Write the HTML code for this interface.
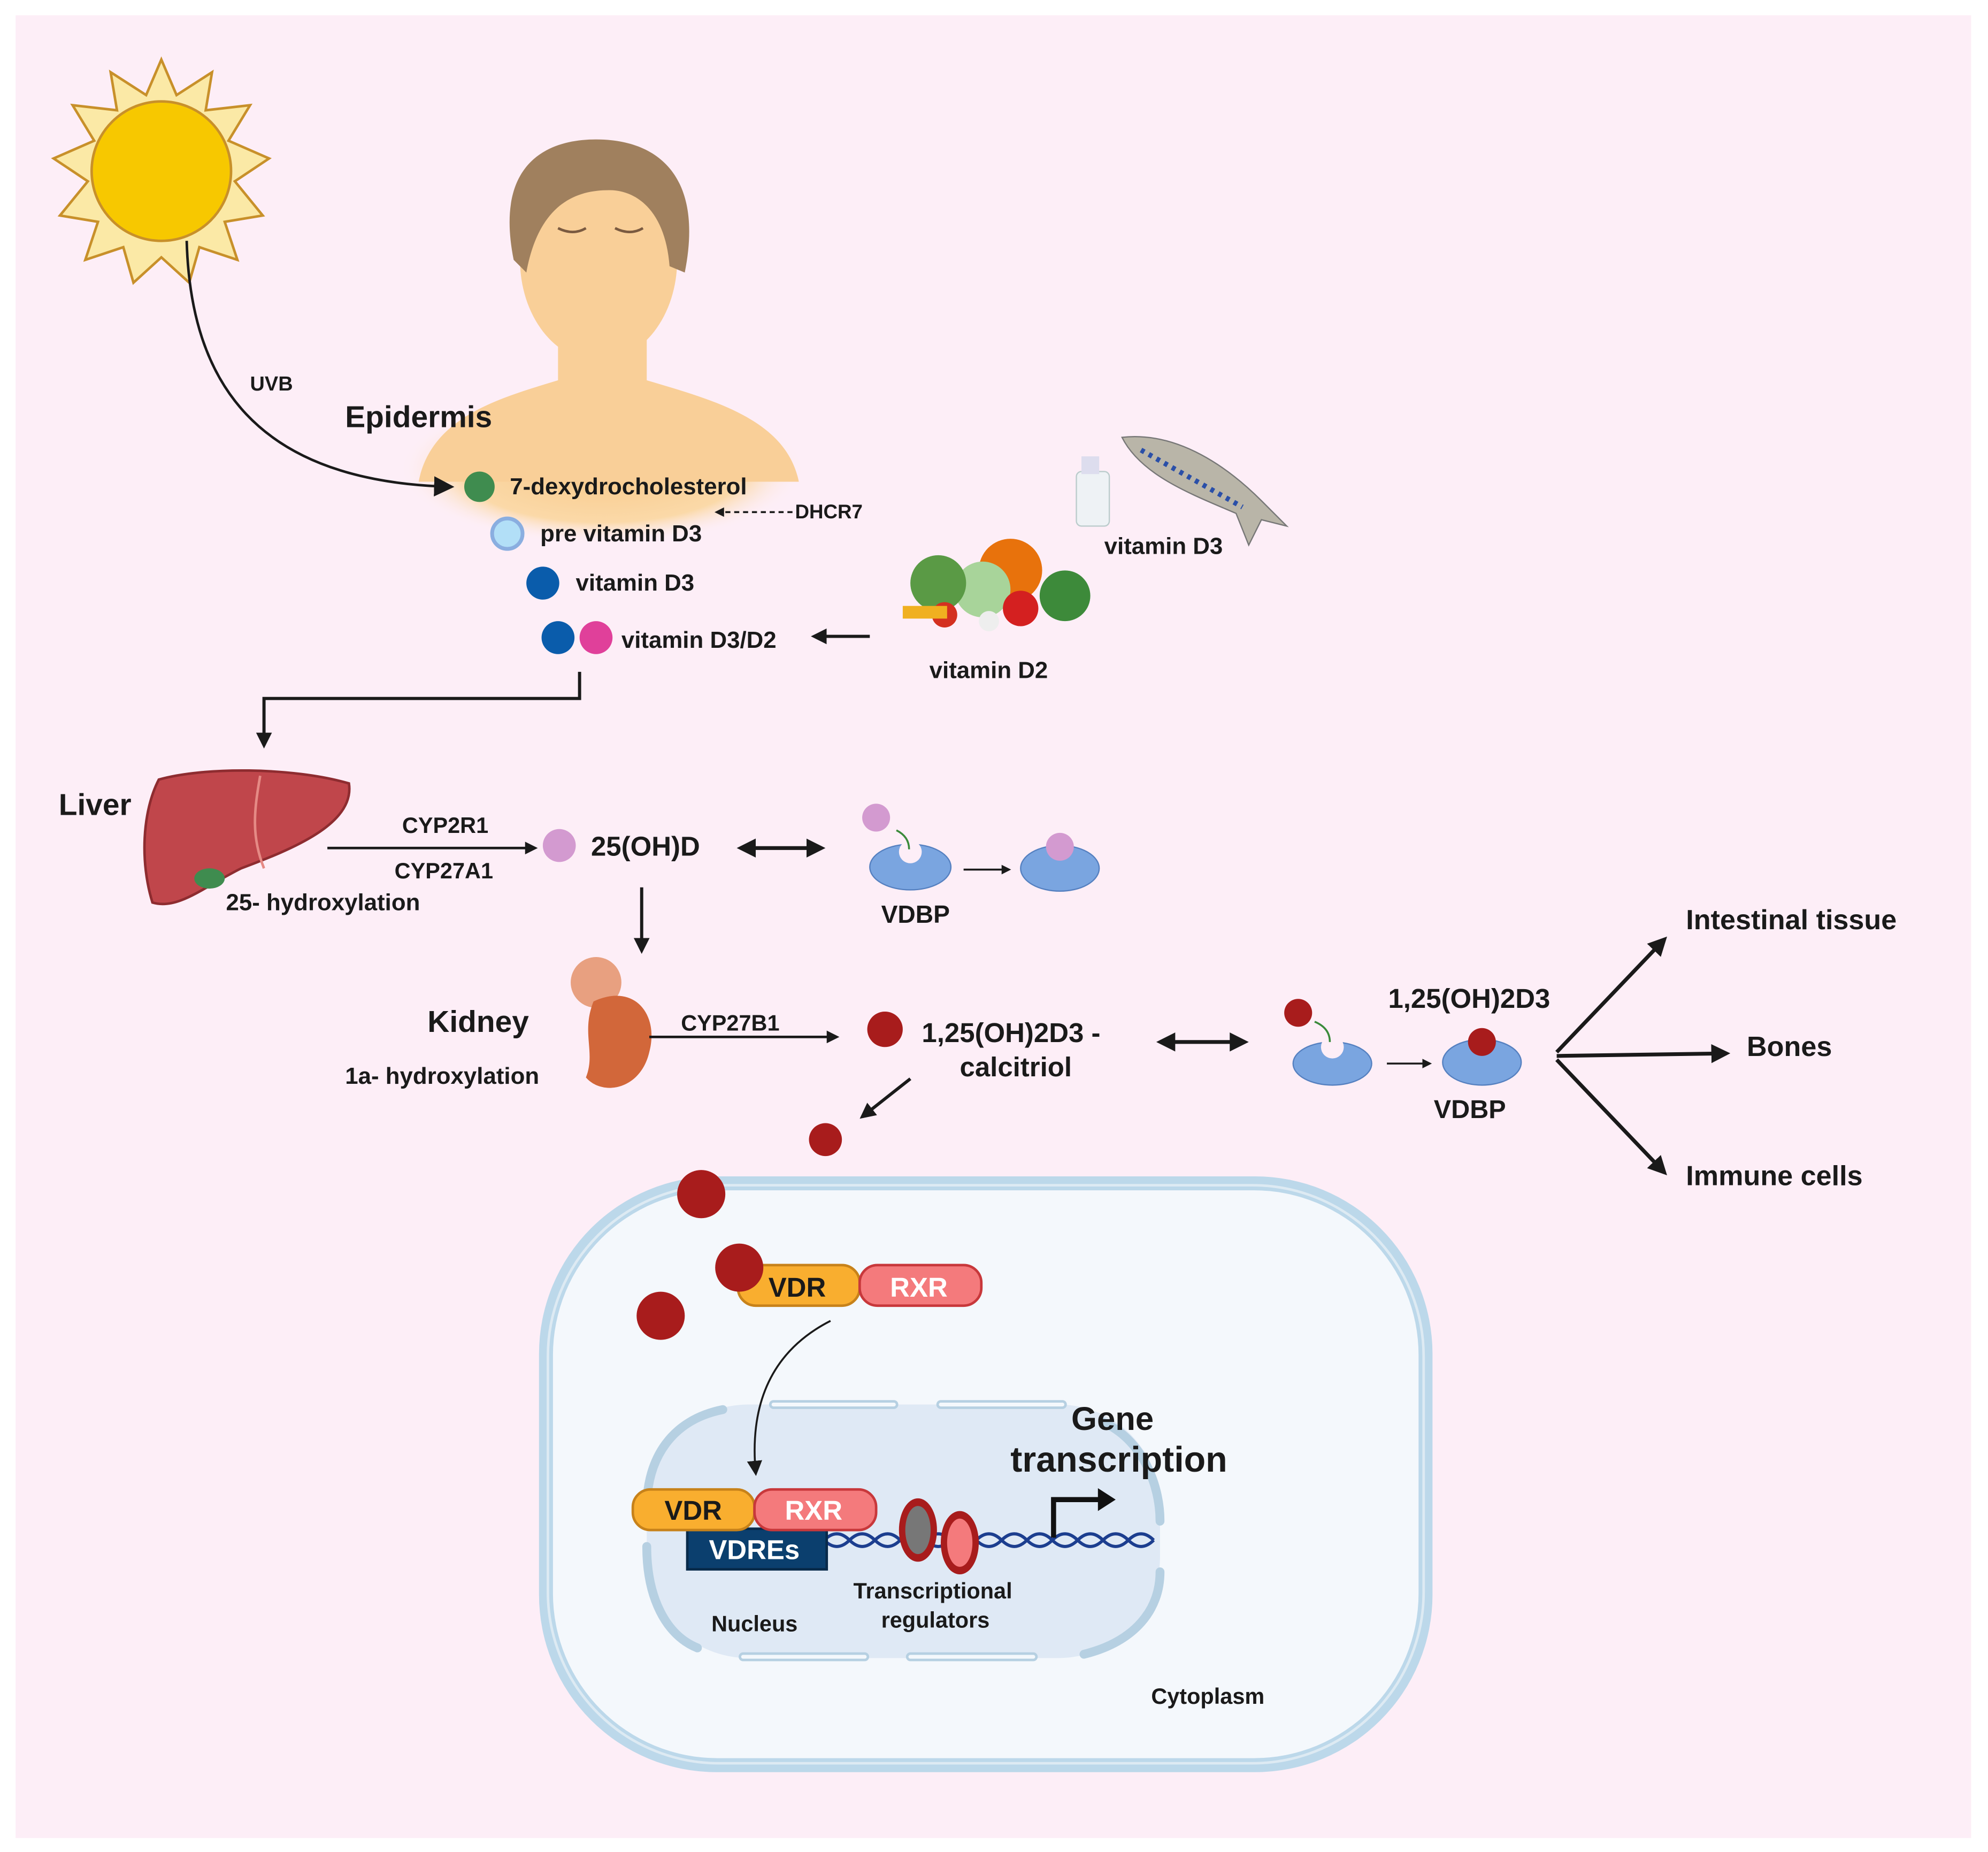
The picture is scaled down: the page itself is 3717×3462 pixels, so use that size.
<!DOCTYPE html>
<html><head><meta charset="utf-8"><style>
html,body{margin:0;padding:0;background:#fff}
svg{display:block}
text{font-family:"Liberation Sans",sans-serif;font-weight:bold;fill:#1a1a1a}
</style></head><body>
<svg width="3717" height="3462" viewBox="0 0 1568 1461" xmlns="http://www.w3.org/2000/svg">
<defs>
<marker id="ah" viewBox="0 0 10 10" refX="8" refY="5" markerWidth="5" markerHeight="5" orient="auto-start-reverse"><path d="M0,0 L10,5 L0,10 z" fill="#1a1a1a"/></marker>
<marker id="ahs" viewBox="0 0 10 10" refX="8" refY="5" markerWidth="8" markerHeight="8" orient="auto-start-reverse"><path d="M0,0 L10,5 L0,10 z" fill="#1a1a1a"/></marker>
<radialGradient id="skin" cx="0.5" cy="0.5" r="0.5"><stop offset="0" stop-color="#f8c98a"/><stop offset="0.7" stop-color="#fbd9a8"/><stop offset="1" stop-color="#fdf0f8" stop-opacity="0"/></radialGradient>
</defs>
<rect x="0" y="0" width="1568" height="1461" fill="#fff"/>
<rect x="12" y="12" width="1543" height="1438" fill="#fdeef7"/>

<!-- Sun -->
<g transform="translate(127,135)">
<polygon fill="#fbe9a6" stroke="#c8902a" stroke-width="2" points="0,-88 12,-60 40,-78 35,-48 70,-52 53,-24 85,-10 58,8 80,35 50,40 60,70 30,60 22,88 0,68 -22,88 -30,60 -60,70 -50,40 -80,35 -58,8 -85,-10 -53,-24 -70,-52 -35,-48 -40,-78 -12,-60"/>
<circle r="55" fill="#f7c800" stroke="#c8902a" stroke-width="2"/>
</g>
<text x="197" y="308" font-size="16">UVB</text>

<!-- Person -->
<ellipse cx="475" cy="370" rx="160" ry="60" fill="url(#skin)"/>
<path d="M330,380 C340,330 390,315 440,300 L440,250 L510,250 L510,300 C560,315 620,330 630,380 Z" fill="#f9cf98"/>
<ellipse cx="472" cy="205" rx="62" ry="80" fill="#f9cf98"/>
<path d="M405,205 C390,130 430,110 470,110 C520,110 555,140 540,215 L528,210 C525,170 505,150 480,150 C455,150 425,160 415,215 Z" fill="#a0805e"/>
<path d="M440,180 q12,6 22,0 M485,180 q12,6 22,0" stroke="#7a5a40" stroke-width="2" fill="none"/>
<path d="M147,190 C150,300 200,380 355,384" fill="none" stroke="#1a1a1a" stroke-width="2" marker-end="url(#ahs)"/>
<text x="272" y="337" font-size="24">Epidermis</text>

<circle cx="378" cy="384" r="12" fill="#3f8c4f"/>
<text x="402" y="390" font-size="18.5">7-dexydrocholesterol</text>
<circle cx="400" cy="421" r="12" fill="#b2dff7" stroke="#8aaee0" stroke-width="3"/>
<text x="426" y="427" font-size="18.5">pre vitamin D3</text>
<line x1="625" y1="404" x2="565" y2="404" stroke="#1a1a1a" stroke-width="1.5" stroke-dasharray="4,3" marker-end="url(#ah)"/>
<text x="627" y="409" font-size="15.5">DHCR7</text>
<circle cx="428" cy="460" r="13" fill="#0a5cab"/>
<text x="454" y="466" font-size="18.5">vitamin D3</text>
<circle cx="440" cy="503" r="13" fill="#0a5cab"/>
<circle cx="470" cy="503" r="13" fill="#e0409a"/>
<text x="490" y="511" font-size="18.5">vitamin D3/D2</text>
<line x1="686" y1="502" x2="642" y2="502" stroke="#1a1a1a" stroke-width="2.5" marker-end="url(#ah)"/>

<!-- fish & bottle -->
<rect x="849" y="372" width="26" height="43" rx="4" fill="#eef2f5" stroke="#bcc" />
<rect x="853" y="360" width="14" height="14" fill="#dde"/>
<path d="M885,345 C930,340 970,370 995,395 L1015,415 L995,410 L985,430 L975,405 C940,390 900,375 885,345 Z" fill="#b9b5a8" stroke="#777" stroke-width="1"/>
<path d="M900,355 L980,400" stroke="#2a4fa8" stroke-width="4" stroke-dasharray="3,4"/>
<text x="871" y="437" font-size="18.5">vitamin D3</text>
<!-- veggies -->
<circle cx="797" cy="450" r="25" fill="#e8720c"/>
<circle cx="775" cy="465" r="22" fill="#a8d49a"/>
<circle cx="740" cy="460" r="22" fill="#5a9a45"/>
<circle cx="840" cy="470" r="20" fill="#3d8a3a"/>
<circle cx="805" cy="480" r="14" fill="#d42020"/>
<circle cx="745" cy="485" r="10" fill="#d43020"/>
<rect x="712" y="478" width="35" height="10" fill="#f0b020"/>
<circle cx="780" cy="490" r="8" fill="#eee"/>
<text x="733" y="535" font-size="18.5">vitamin D2</text>

<path d="M457,530 L457,551 L208,551 L208,588" fill="none" stroke="#1a1a1a" stroke-width="2.5" marker-end="url(#ah)"/>

<!-- Liver -->
<path d="M125,615 C160,605 230,605 275,618 C280,650 230,670 190,685 C160,700 140,718 120,712 C110,680 112,640 125,615 Z" fill="#c0464b" stroke="#8e2c30" stroke-width="2"/>
<path d="M205,612 C200,640 198,660 208,685" stroke="#e58a85" stroke-width="2" fill="none"/>
<ellipse cx="165" cy="693" rx="12" ry="8" fill="#3f8c4f"/>
<text x="46" y="643" font-size="24">Liver</text>
<text x="178" y="718" font-size="18.5">25- hydroxylation</text>
<line x1="258" y1="669" x2="422" y2="669" stroke="#1a1a1a" stroke-width="2" marker-end="url(#ah)"/>
<text x="317" y="657" font-size="17.5">CYP2R1</text>
<text x="311" y="693" font-size="17.5">CYP27A1</text>
<circle cx="441" cy="667" r="13" fill="#d39ad0"/>
<text x="466" y="675" font-size="21.5">25(OH)D</text>
<line x1="584" y1="669" x2="648" y2="669" stroke="#1a1a1a" stroke-width="3" marker-start="url(#ah)" marker-end="url(#ah)"/>
<circle cx="691" cy="645" r="11" fill="#d39ad0"/>
<ellipse cx="718" cy="684" rx="32" ry="18" fill="#7aa5e0" stroke="#5580c0"/>
<circle cx="718" cy="672" r="9" fill="#fdeef7"/>
<path d="M707,655 q10,5 10,15" stroke="#3a8a3a" stroke-width="1.5" fill="none"/>
<text x="695" y="728" font-size="19.5">VDBP</text>
<line x1="760" y1="686" x2="796" y2="686" stroke="#1a1a1a" stroke-width="1.5" marker-end="url(#ah)"/>
<ellipse cx="836" cy="685" rx="31" ry="18" fill="#7aa5e0" stroke="#5580c0"/>
<circle cx="836" cy="668" r="11" fill="#d39ad0"/>
<line x1="506" y1="700" x2="506" y2="750" stroke="#1a1a1a" stroke-width="2.5" marker-end="url(#ah)"/>

<!-- Kidney -->
<circle cx="470" cy="775" r="20" fill="#e8a080"/>
<path d="M468,790 C500,775 520,800 512,830 C505,860 475,865 462,850 C470,830 458,815 468,790 Z" fill="#d2673a"/>
<text x="337" y="814" font-size="24">Kidney</text>
<text x="272" y="855" font-size="18.5">1a- hydroxylation</text>
<line x1="512" y1="818" x2="660" y2="818" stroke="#1a1a1a" stroke-width="2" marker-end="url(#ah)"/>
<text x="537" y="813" font-size="17.5">CYP27B1</text>
<circle cx="698" cy="812" r="14" fill="#a81c1c"/>
<text x="727" y="822" font-size="21.5">1,25(OH)2D3 -</text>
<text x="757" y="849" font-size="21.5">calcitriol</text>
<line x1="915" y1="822" x2="982" y2="822" stroke="#1a1a1a" stroke-width="3" marker-start="url(#ah)" marker-end="url(#ah)"/>
<circle cx="1024" cy="799" r="11" fill="#a81c1c"/>
<ellipse cx="1051" cy="839" rx="31" ry="17" fill="#7aa5e0" stroke="#5580c0"/>
<circle cx="1051" cy="826" r="9" fill="#fdeef7"/>
<path d="M1037,806 q12,5 12,16" stroke="#3a8a3a" stroke-width="1.5" fill="none"/>
<line x1="1094" y1="839" x2="1128" y2="839" stroke="#1a1a1a" stroke-width="1.5" marker-end="url(#ah)"/>
<ellipse cx="1169" cy="838" rx="31" ry="18" fill="#7aa5e0" stroke="#5580c0"/>
<circle cx="1169" cy="822" r="11" fill="#a81c1c"/>
<text x="1095" y="795" font-size="21.5">1,25(OH)2D3</text>
<text x="1131" y="882" font-size="20.5">VDBP</text>
<path d="M1228,830 L1313,741" stroke="#1a1a1a" stroke-width="3" marker-end="url(#ah)"/>
<path d="M1228,833 L1362,831" stroke="#1a1a1a" stroke-width="3" marker-end="url(#ah)"/>
<path d="M1228,836 L1313,925" stroke="#1a1a1a" stroke-width="3" marker-end="url(#ah)"/>
<text x="1330" y="733" font-size="22">Intestinal tissue</text>
<text x="1378" y="833" font-size="22">Bones</text>
<text x="1330" y="935" font-size="22">Immune cells</text>

<line x1="718" y1="851" x2="680" y2="881" stroke="#1a1a1a" stroke-width="2.5" marker-end="url(#ah)"/>
<circle cx="651" cy="899" r="13" fill="#a81c1c"/>

<!-- Cell -->
<rect x="425" y="928" width="705" height="470" rx="140" fill="#bcd8ea"/>
<rect x="436" y="939" width="683" height="448" rx="130" fill="#f4f8fc"/>
<rect x="432" y="935" width="691" height="456" rx="135" fill="none" stroke="#ddeaf3" stroke-width="2"/>
<circle cx="553" cy="942" r="19" fill="#a81c1c"/>
<circle cx="521" cy="1038" r="19" fill="#a81c1c"/>
<rect x="582" y="998" width="96" height="32" rx="14" fill="#f9ae2f" stroke="#c7821a" stroke-width="2"/>
<rect x="678" y="998" width="96" height="32" rx="14" fill="#f47a7c" stroke="#c8383b" stroke-width="2"/>
<circle cx="583" cy="1000" r="19" fill="#a81c1c"/>
<text x="606" y="1023" font-size="21.5">VDR</text>
<text x="702" y="1023" font-size="21.5" style="fill:#fff">RXR</text>

<!-- Nucleus -->
<rect x="510" y="1108" width="405" height="200" rx="80" fill="#dfe9f5"/>
<g fill="none" stroke="#b6d0e2" stroke-width="7" stroke-linecap="round">
<path d="M570,1112 C530,1120 510,1150 510,1190"/>
<path d="M510,1220 C510,1260 525,1290 550,1300"/>
<line x1="610" y1="1108" x2="705" y2="1108"/>
<line x1="742" y1="1108" x2="838" y2="1108"/>
<line x1="586" y1="1307" x2="682" y2="1307"/>
<line x1="718" y1="1307" x2="815" y2="1307"/>
<path d="M855,1305 C895,1295 915,1270 915,1240"/>
<path d="M915,1200 C915,1170 900,1135 870,1122"/>
</g>
<g fill="none" stroke="#f4f8fc" stroke-width="3" stroke-linecap="round">
<line x1="610" y1="1108" x2="705" y2="1108"/>
<line x1="742" y1="1108" x2="838" y2="1108"/>
<line x1="586" y1="1307" x2="682" y2="1307"/>
<line x1="718" y1="1307" x2="815" y2="1307"/>
</g>
<path d="M655,1042 C600,1070 592,1120 596,1162" fill="none" stroke="#1a1a1a" stroke-width="1.5" marker-end="url(#ahs)"/>
<path d="M650,1215 q10,-10 20,0 t20,0 t20,0 t20,0 t20,0 t20,0 t20,0 t20,0 t20,0 t20,0 t20,0 t20,0 t20,0" fill="none" stroke="#1c3e8f" stroke-width="2.5"/>
<path d="M650,1215 q10,10 20,0 t20,0 t20,0 t20,0 t20,0 t20,0 t20,0 t20,0 t20,0 t20,0 t20,0 t20,0 t20,0" fill="none" stroke="#1c3e8f" stroke-width="2.5"/>
<rect x="542" y="1206" width="110" height="32" fill="#0b3f6e" stroke="#082a4a" stroke-width="2"/>
<text x="559" y="1230" font-size="21.5" style="fill:#fff">VDREs</text>
<rect x="499" y="1175" width="96" height="32" rx="14" fill="#f9ae2f" stroke="#c7821a" stroke-width="2"/>
<rect x="595" y="1175" width="96" height="32" rx="14" fill="#f47a7c" stroke="#c8383b" stroke-width="2"/>
<text x="524" y="1199" font-size="21.5">VDR</text>
<text x="619" y="1199" font-size="21.5" style="fill:#fff">RXR</text>
<ellipse cx="724" cy="1207" rx="15" ry="25" fill="#a81c1c"/>
<ellipse cx="724" cy="1207" rx="10" ry="19" fill="#777"/>
<ellipse cx="757" cy="1217" rx="15" ry="25" fill="#a81c1c"/>
<ellipse cx="757" cy="1217" rx="10" ry="19" fill="#f47a7c"/>
<path d="M831,1213 L831,1183 L870,1183" fill="none" stroke="#111" stroke-width="4"/>
<path d="M866,1174 L880,1183 L866,1192 Z" fill="#111"/>
<text x="845" y="1128" font-size="26">Gene</text>
<text x="797" y="1161" font-size="28">transcription</text>
<text x="673" y="1261" font-size="17.5">Transcriptional</text>
<text x="695" y="1284" font-size="17.5">regulators</text>
<text x="561" y="1287" font-size="17.5">Nucleus</text>
<text x="908" y="1344" font-size="17.5">Cytoplasm</text>
</svg>
</body></html>
